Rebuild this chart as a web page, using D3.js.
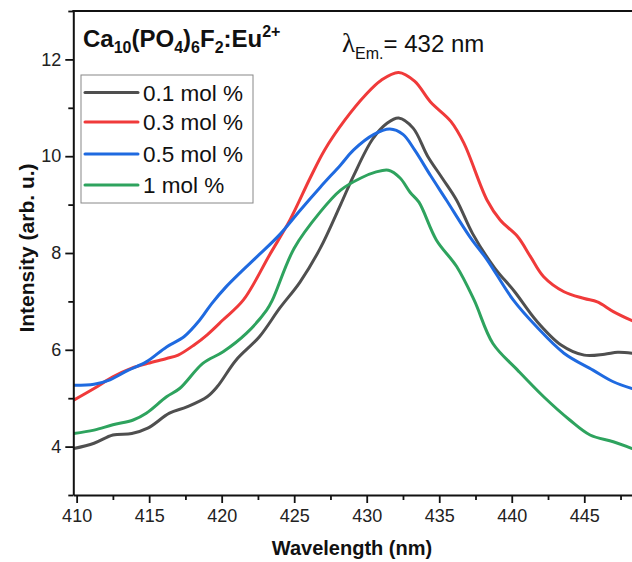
<!DOCTYPE html>
<html>
<head>
<meta charset="utf-8">
<script src="https://cdn.jsdelivr.net/npm/d3@7"></script>
<style>
  html, body { margin: 0; padding: 0; background: #fff; }
  svg { display: block; font-family: "Liberation Sans", Arial, sans-serif; }
</style>
</head>
<body>
<svg id="chart" width="632" height="562"></svg>
<script>
// Emission spectra of Ca10(PO4)6F2:Eu2+ at four doping levels
const seriesNames = ["0.1 mol %", "0.3 mol %", "0.5 mol %", "1 mol %"];
const seriesColors = ["#4f4f4f", "#f03a3a", "#1f6ae0", "#2ea35e"];

// wavelength (nm), intensity (arb. u.)
const wl01 = [409.8, 411.2, 412.5, 413.8, 414.9, 416.4, 417.6, 419.0, 419.7, 421.0, 422.6, 424.0, 425.4, 426.8, 428.2, 429.1, 430.4, 431.4, 432.2, 433.2, 434.2, 435.2, 436.2, 437.3, 438.8, 440.2, 441.7, 443.4, 445.0, 446.4, 447.3, 448.3];
const int01 = [3.96, 4.07, 4.24, 4.27, 4.38, 4.69, 4.82, 5.03, 5.24, 5.79, 6.27, 6.86, 7.40, 8.10, 9.00, 9.60, 10.35, 10.68, 10.79, 10.58, 10.00, 9.55, 9.09, 8.40, 7.70, 7.20, 6.60, 6.10, 5.89, 5.91, 5.95, 5.93];

const wl03 = [409.8, 411.2, 412.5, 413.8, 414.9, 416.2, 417.0, 418.1, 419.0, 420.1, 421.5, 423.3, 424.7, 426.1, 427.1, 428.5, 429.9, 431.0, 432.2, 433.3, 434.4, 435.8, 436.7, 438.3, 439.2, 440.4, 441.3, 442.2, 443.6, 445.0, 445.9, 447.0, 448.3];
const int03 = [4.96, 5.20, 5.44, 5.62, 5.72, 5.82, 5.89, 6.10, 6.31, 6.62, 7.03, 7.96, 8.68, 9.55, 10.13, 10.75, 11.26, 11.57, 11.73, 11.55, 11.12, 10.72, 10.27, 9.09, 8.68, 8.34, 7.92, 7.51, 7.20, 7.06, 6.99, 6.79, 6.60];

const wl05 = [409.8, 411.2, 412.3, 413.5, 414.8, 416.2, 417.4, 418.5, 419.3, 420.3, 421.3, 422.6, 424.0, 425.4, 426.8, 428.2, 429.1, 430.5, 431.6, 432.5, 433.3, 434.4, 435.5, 437.1, 438.3, 440.1, 441.7, 443.6, 445.6, 447.0, 448.3];
const int05 = [5.27, 5.29, 5.38, 5.57, 5.75, 6.06, 6.27, 6.62, 6.95, 7.30, 7.60, 7.97, 8.38, 8.88, 9.36, 9.82, 10.13, 10.45, 10.56, 10.45, 10.13, 9.60, 9.09, 8.34, 7.86, 7.03, 6.48, 5.93, 5.58, 5.34, 5.20];

const wl1 = [409.8, 411.2, 412.5, 413.9, 414.8, 416.2, 417.1, 418.7, 420.1, 421.7, 423.1, 423.5, 425.0, 426.8, 428.2, 429.6, 430.6, 431.5, 432.3, 433.0, 433.6, 434.8, 436.2, 437.4, 438.7, 440.4, 442.2, 444.0, 445.4, 447.0, 448.3];
const int1 = [4.27, 4.34, 4.45, 4.55, 4.69, 5.03, 5.20, 5.72, 5.96, 6.34, 6.82, 7.03, 8.10, 8.85, 9.30, 9.55, 9.67, 9.71, 9.55, 9.25, 9.05, 8.27, 7.72, 7.03, 6.13, 5.58, 5.03, 4.55, 4.24, 4.10, 3.96];

const xTicks = [410, 415, 420, 425, 430, 435, 440, 445];
const yTicks = [4, 6, 8, 10, 12];

const series = [
  { name: seriesNames[0], color: seriesColors[0], x: wl01, y: int01 },
  { name: seriesNames[1], color: seriesColors[1], x: wl03, y: int03 },
  { name: seriesNames[2], color: seriesColors[2], x: wl05, y: int05 },
  { name: seriesNames[3], color: seriesColors[3], x: wl1,  y: int1 }
];

const svg = d3.select("#chart");
const plotL = 73.3, plotR = 632, plotT = 11, plotB = 495;

const x = d3.scaleLinear().domain([409.77, 448.29]).range([plotL, plotR]);
const y = d3.scaleLinear().domain([3, 13]).range([plotB, plotT]);

// data curves (clipped to the plot area)
svg.append("clipPath").attr("id", "plotclip")
  .append("rect").attr("x", plotL).attr("y", plotT).attr("width", plotR - plotL).attr("height", plotB - plotT);

const line = d3.line().curve(d3.curveCatmullRom.alpha(0.5));
const g = svg.append("g").attr("clip-path", "url(#plotclip)");
series.forEach(s => {
  const pts = s.x.map((v, i) => [x(v), y(s.y[i])]);
  g.append("path")
    .attr("d", line(pts))
    .attr("fill", "none")
    .attr("stroke", s.color)
    .attr("stroke-width", 3)
    .attr("stroke-linejoin", "round")
    .attr("stroke-linecap", "round");
});

// axes
const xMinor = d3.range(412.5, 448.3, 5);
const yMinor = [3, 5, 7, 9, 11, 13];

svg.append("g").attr("transform", `translate(0,${plotB})`)
  .call(d3.axisBottom(x).tickValues(xTicks).tickFormat(d3.format("d")).tickSize(8).tickPadding(6).tickSizeOuter(0));
svg.append("g").attr("transform", `translate(0,${plotB})`)
  .call(d3.axisBottom(x).tickValues(xMinor).tickFormat("").tickSize(5).tickSizeOuter(0))
  .select(".domain").remove();

svg.append("g").attr("transform", `translate(${plotL},0)`)
  .call(d3.axisLeft(y).tickValues(yTicks).tickFormat(d3.format("d")).tickSize(8).tickPadding(4).tickSizeOuter(0));
svg.append("g").attr("transform", `translate(${plotL},0)`)
  .call(d3.axisLeft(y).tickValues(yMinor).tickFormat("").tickSize(5).tickSizeOuter(0))
  .select(".domain").remove();

svg.selectAll(".tick line").attr("stroke", "#111").attr("stroke-width", 1.8);
svg.selectAll(".domain").attr("stroke", "#111").attr("stroke-width", 2);
svg.selectAll(".tick text").attr("font-size", 18).attr("fill", "#222")
  .attr("font-family", "'Liberation Sans', Arial, sans-serif");

// top frame line
svg.append("line").attr("x1", plotL - 1).attr("x2", plotR).attr("y1", plotT).attr("y2", plotT)
  .attr("stroke", "#111").attr("stroke-width", 2);

// axis titles
svg.append("text").attr("x", 352).attr("y", 555).attr("text-anchor", "middle")
  .attr("font-size", 20).attr("font-weight", "bold").attr("fill", "#111")
  .text("Wavelength (nm)");
svg.append("text").attr("transform", "translate(34,248) rotate(-90)").attr("text-anchor", "middle")
  .attr("font-size", 21).attr("font-weight", "bold").attr("fill", "#111")
  .text("Intensity (arb. u.)");

// compound label
const t = svg.append("text").attr("x", 83).attr("y", 47)
  .attr("font-size", 24).attr("font-weight", "bold").attr("fill", "#111");
const parts = [
  ["Ca", 0], ["10", 1], ["(PO", 0], ["4", 1], [")", 0], ["6", 1], ["F", 0], ["2", 1], [":Eu", 0], ["2+", -1]
];
let prev = 0;
parts.forEach(([txt, kind]) => {
  const shift = kind === 1 ? 6 : kind === -1 ? -10 : 0;
  t.append("tspan")
    .attr("dy", shift - prev)
    .attr("font-size", kind === 0 ? 24 : 16)
    .text(txt);
  prev = shift;
});

// excitation/emission wavelength note
const lam = svg.append("text").attr("x", 342).attr("y", 52).attr("fill", "#111").attr("font-size", 24);
lam.append("tspan").attr("font-family", "'Liberation Serif', serif").attr("font-size", 27).text("λ");
lam.append("tspan").attr("dy", 7).attr("font-size", 16).text("Em.");
lam.append("tspan").attr("dy", -7).text("= 432 nm");

// legend
const lg = svg.append("g");
lg.append("rect").attr("x", 81).attr("y", 75).attr("width", 172).attr("height", 128)
  .attr("fill", "#fff").attr("stroke", "#888").attr("stroke-width", 1);
const rowY = [92.5, 122, 154, 185];
series.forEach((s, i) => {
  lg.append("line").attr("x1", 85).attr("x2", 138).attr("y1", rowY[i]).attr("y2", rowY[i])
    .attr("stroke", s.color).attr("stroke-width", 3).attr("stroke-linecap", "round");
  lg.append("text").attr("x", 143).attr("y", rowY[i] + 8).attr("font-size", 22.5).attr("fill", "#111")
    .text(s.name);
});
</script>
</body>
</html>
